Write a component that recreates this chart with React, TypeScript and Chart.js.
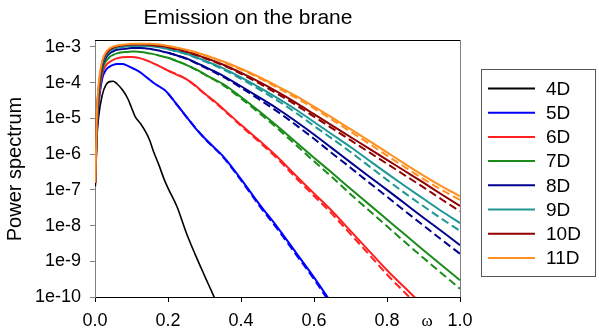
import { useEffect, useRef } from "react";
import { Chart, registerables } from "chart.js";

Chart.register(...registerables);

const TITLE = "Emission on the brane";
const Y_TITLE = "Power spectrum";
const X_TITLE = "ω";
const SERIES_LABELS = ["4D", "5D", "6D", "7D", "8D", "9D", "10D", "11D"];
const SERIES_COLORS = ["#000000", "#0000ff", "#ff2020", "#1a8c1a", "#000090", "#1e9696", "#900000", "#ff9020"];
const X_TICKS = [0, 0.2, 0.4, 0.6, 0.8, 1.0];
const X_TICK_LABELS = ["0.0", "0.2", "0.4", "0.6", "0.8", "1.0"];
const Y_TICKS = [1e-10, 1e-9, 1e-8, 1e-7, 1e-6, 1e-5, 1e-4, 1e-3];
const Y_TICK_LABELS = ["1e-10", "1e-9", "1e-8", "1e-7", "1e-6", "1e-5", "1e-4", "1e-3"];

// omega grid for the solid curves
const OMEGA = [0.001, 0.005, 0.01, 0.02, 0.03, 0.04, 0.05, 0.06, 0.075, 0.09, 0.1, 0.11, 0.125, 0.14, 0.15, 0.16, 0.175, 0.19, 0.2, 0.225, 0.25, 0.275, 0.3, 0.325, 0.35, 0.4, 0.45, 0.5, 0.55, 0.6, 0.65, 0.7, 0.75, 0.8, 0.85, 0.9, 0.95, 1.0];

// log10 of power spectrum (solid curves)
const LOG_P_4D = [-6.9, -5.6, -4.95, -4.34, -4.06, -3.97, -3.96, -4.03, -4.2, -4.45, -4.7, -4.95, -5.15, -5.4, -5.62, -5.92, -6.3, -6.72, -6.95, -7.48, -8.2, -8.82, -9.4, -9.97, -10.55];
const LOG_P_5D = [-6.8, -5.4, -4.6, -3.88, -3.64, -3.55, -3.5, -3.48, -3.48, -3.53, -3.58, -3.63, -3.72, -3.84, -3.92, -4.0, -4.1, -4.2, -4.3, -4.62, -4.95, -5.27, -5.55, -5.8, -6.05, -6.7, -7.4, -8.05, -8.75, -9.45, -10.2];
const LOG_P_6D = [-6.8, -5.3, -4.5, -3.75, -3.52, -3.42, -3.36, -3.32, -3.29, -3.28, -3.28, -3.29, -3.32, -3.37, -3.41, -3.46, -3.53, -3.61, -3.66, -3.78, -3.9, -4.08, -4.3, -4.5, -4.72, -5.18, -5.62, -6.08, -6.6, -7.1, -7.6, -8.15, -8.7, -9.25, -9.75, -10.25];
const LOG_P_7D = [-6.8, -5.2, -4.4, -3.65, -3.4, -3.28, -3.22, -3.18, -3.15, -3.14, -3.13, -3.13, -3.14, -3.16, -3.18, -3.2, -3.24, -3.28, -3.3, -3.4, -3.5, -3.62, -3.76, -3.9, -4.03, -4.4, -4.8, -5.22, -5.66, -6.1, -6.53, -6.97, -7.4, -7.83, -8.26, -8.69, -9.11, -9.53];
const LOG_P_8D = [-6.8, -5.1, -4.3, -3.55, -3.3, -3.18, -3.12, -3.08, -3.06, -3.04, -3.03, -3.03, -3.03, -3.04, -3.05, -3.07, -3.1, -3.14, -3.16, -3.24, -3.32, -3.43, -3.55, -3.67, -3.8, -4.1, -4.41, -4.73, -5.08, -5.45, -5.84, -6.23, -6.62, -7.0, -7.39, -7.78, -8.16, -8.55];
const LOG_P_9D = [-6.8, -5.0, -4.2, -3.48, -3.24, -3.12, -3.06, -3.02, -3.0, -2.98, -2.97, -2.97, -2.97, -2.97, -2.98, -2.99, -3.01, -3.04, -3.06, -3.12, -3.19, -3.28, -3.38, -3.48, -3.59, -3.85, -4.13, -4.43, -4.75, -5.1, -5.45, -5.8, -6.17, -6.54, -6.9, -7.25, -7.6, -7.93];
const LOG_P_10D = [-6.8, -4.95, -4.15, -3.43, -3.2, -3.08, -3.02, -2.98, -2.96, -2.94, -2.93, -2.93, -2.93, -2.93, -2.94, -2.95, -2.97, -2.99, -3.01, -3.06, -3.13, -3.21, -3.3, -3.39, -3.49, -3.72, -3.98, -4.26, -4.56, -4.88, -5.2, -5.52, -5.84, -6.16, -6.48, -6.8, -7.13, -7.45];
const LOG_P_11D = [-6.8, -4.9, -4.05, -3.38, -3.15, -3.04, -2.99, -2.96, -2.94, -2.92, -2.91, -2.91, -2.91, -2.91, -2.91, -2.92, -2.93, -2.95, -2.97, -3.02, -3.08, -3.14, -3.22, -3.31, -3.4, -3.61, -3.84, -4.1, -4.37, -4.67, -4.98, -5.3, -5.62, -5.95, -6.28, -6.6, -6.9, -7.18];

// omega grid for the dashed curves
const OMEGA_TAIL = [0.2, 0.25, 0.3, 0.35, 0.4, 0.45, 0.5, 0.55, 0.6, 0.65, 0.7, 0.75, 0.8, 0.85, 0.9, 0.95, 1.0];
const LOG_P_5D_DASH = [-4.3, -4.95, -5.56, -6.07, -6.73, -7.44, -8.1, -8.8, -9.5, -10.26];
const LOG_P_6D_DASH = [-3.66, -3.9, -4.31, -4.74, -5.21, -5.66, -6.13, -6.66, -7.17, -7.68, -8.24, -8.8, -9.37, -9.89, -10.4];
const LOG_P_7D_DASH = [-3.3, -3.5, -3.77, -4.06, -4.44, -4.85, -5.28, -5.74, -6.2, -6.65, -7.12, -7.57, -8.02, -8.47, -8.91, -9.34, -9.77];
const LOG_P_8D_DASH = [-3.16, -3.33, -3.57, -3.83, -4.14, -4.47, -4.81, -5.18, -5.57, -5.98, -6.38, -6.79, -7.19, -7.6, -8.0, -8.4, -8.79];
const LOG_P_9D_DASH = [-3.06, -3.2, -3.4, -3.62, -3.89, -4.19, -4.5, -4.84, -5.21, -5.57, -5.94, -6.33, -6.72, -7.1, -7.46, -7.81, -8.15];
const LOG_P_10D_DASH = [-3.01, -3.14, -3.31, -3.51, -3.75, -4.02, -4.31, -4.62, -4.95, -5.28, -5.61, -5.94, -6.27, -6.6, -6.93, -7.27, -7.6];
const LOG_P_11D_DASH = [-2.97, -3.09, -3.23, -3.42, -3.63, -3.87, -4.14, -4.42, -4.72, -5.04, -5.37, -5.7, -6.04, -6.37, -6.7, -7.0, -7.28];

const SOLID = [LOG_P_4D, LOG_P_5D, LOG_P_6D, LOG_P_7D, LOG_P_8D, LOG_P_9D, LOG_P_10D, LOG_P_11D];
const DASHED = [null, LOG_P_5D_DASH, LOG_P_6D_DASH, LOG_P_7D_DASH, LOG_P_8D_DASH, LOG_P_9D_DASH, LOG_P_10D_DASH, LOG_P_11D_DASH];

const FONT = "'Liberation Sans', Arial, sans-serif";

const toPoints = (xs: number[], logs: number[]) =>
  logs.map((v, i) => ({ x: xs[i], y: Math.pow(10, v) }));

const decorPlugin = {
  id: "decor",
  afterDraw(chart: any) {
    const { ctx, chartArea } = chart;
    const { left, right, top, bottom } = chartArea;
    ctx.save();
    // frame: top black, right gray
    ctx.lineWidth = 1;
    ctx.strokeStyle = "#000";
    ctx.beginPath();
    ctx.moveTo(left, top - 0.5);
    ctx.lineTo(right, top - 0.5);
    ctx.stroke();
    ctx.strokeStyle = "#808080";
    ctx.beginPath();
    ctx.moveTo(right + 0.5, top - 1);
    ctx.lineTo(right + 0.5, bottom);
    ctx.stroke();

    // title
    ctx.fillStyle = "#000";
    ctx.font = `21px ${FONT}`;
    ctx.textAlign = "center";
    ctx.textBaseline = "alphabetic";
    ctx.fillText(TITLE, 248, 23.5);

    // omega label
    ctx.font = `17px 'Liberation Serif', 'Times New Roman', serif`;
    ctx.fillText(X_TITLE, 427, 326);

    // legend
    ctx.strokeStyle = "#555";
    ctx.lineWidth = 1;
    ctx.strokeRect(481.5, 69.5, 114, 207);
    ctx.font = `19px ${FONT}`;
    ctx.textAlign = "left";
    ctx.textBaseline = "middle";
    SERIES_LABELS.forEach((lab, i) => {
      const y = 88.5 + i * 24.2;
      ctx.strokeStyle = SERIES_COLORS[i];
      ctx.lineWidth = 2;
      ctx.beginPath();
      ctx.moveTo(488, y);
      ctx.lineTo(535, y);
      ctx.stroke();
      ctx.fillStyle = "#000";
      ctx.fillText(lab, 546, y + 1);
    });
    ctx.restore();
  },
};

export default function App() {
  const ref = useRef<HTMLCanvasElement | null>(null);

  useEffect(() => {
    document.body.style.margin = "0";
    if (!ref.current) return;
    const datasets: any[] = [];
    SOLID.forEach((logs, i) => {
      datasets.push({
        label: SERIES_LABELS[i],
        data: toPoints(OMEGA, logs),
        borderColor: SERIES_COLORS[i],
        borderWidth: i === 0 ? 1.6 : 2,
        pointRadius: 0,
        fill: false,
        cubicInterpolationMode: "monotone",
        order: 20 - i,
      });
    });
    DASHED.forEach((logs, i) => {
      if (!logs) return;
      datasets.push({
        label: SERIES_LABELS[i] + " (dashed)",
        data: toPoints(OMEGA_TAIL, logs),
        borderColor: SERIES_COLORS[i],
        borderWidth: 2,
        borderDash: [8, 4],
        pointRadius: 0,
        fill: false,
        cubicInterpolationMode: "monotone",
        order: 40 - i,
      });
    });

    const chart = new Chart(ref.current, {
      type: "line",
      data: { datasets },
      options: {
        animation: false,
        responsive: false,
        devicePixelRatio: 1,
        layout: { padding: { left: 0, right: 139, top: 41, bottom: 0 } },
        plugins: {
          legend: { display: false },
          title: { display: false },
          tooltip: { enabled: false },
        },
        scales: {
          x: {
            type: "linear",
            min: 0,
            max: 1,
            afterBuildTicks: (axis: any) => {
              axis.ticks = X_TICKS.map((v) => ({ value: v }));
            },
            afterFit: (scale: any) => {
              scale.height = 38;
            },
            ticks: {
              color: "#000",
              font: { family: FONT, size: 18 },
              padding: 8,
              maxRotation: 0,
              autoSkip: false,
              callback: (_v: any, idx: number) => X_TICK_LABELS[idx],
            },
            grid: { display: true, drawOnChartArea: false, tickLength: 5, tickColor: "#000" },
            border: { display: true, color: "#000", width: 1 },
          },
          y: {
            type: "logarithmic",
            min: 1e-10,
            max: 1.47e-3,
            afterBuildTicks: (axis: any) => {
              axis.ticks = Y_TICKS.map((v) => ({ value: v }));
            },
            afterFit: (scale: any) => {
              scale.width = 95;
            },
            ticks: {
              color: "#000",
              font: { family: FONT, size: 18 },
              padding: 9,
              autoSkip: false,
              callback: (_v: any, idx: number) => Y_TICK_LABELS[idx],
            },
            title: {
              display: true,
              text: Y_TITLE,
              color: "#000",
              font: { family: FONT, size: 20 },
              padding: { top: 3, bottom: 0 },
            },
            grid: { display: true, drawOnChartArea: false, tickLength: 5, tickColor: "#808080" },
            border: { display: true, color: "#808080", width: 1 },
          },
        },
      },
      plugins: [decorPlugin],
    } as any);
    return () => chart.destroy();
  }, []);

  return (
    <div style={{ width: 599, height: 335, position: "relative", background: "#fff" }}>
      <canvas ref={ref} width={599} height={335} style={{ display: "block" }} />
    </div>
  );
}
